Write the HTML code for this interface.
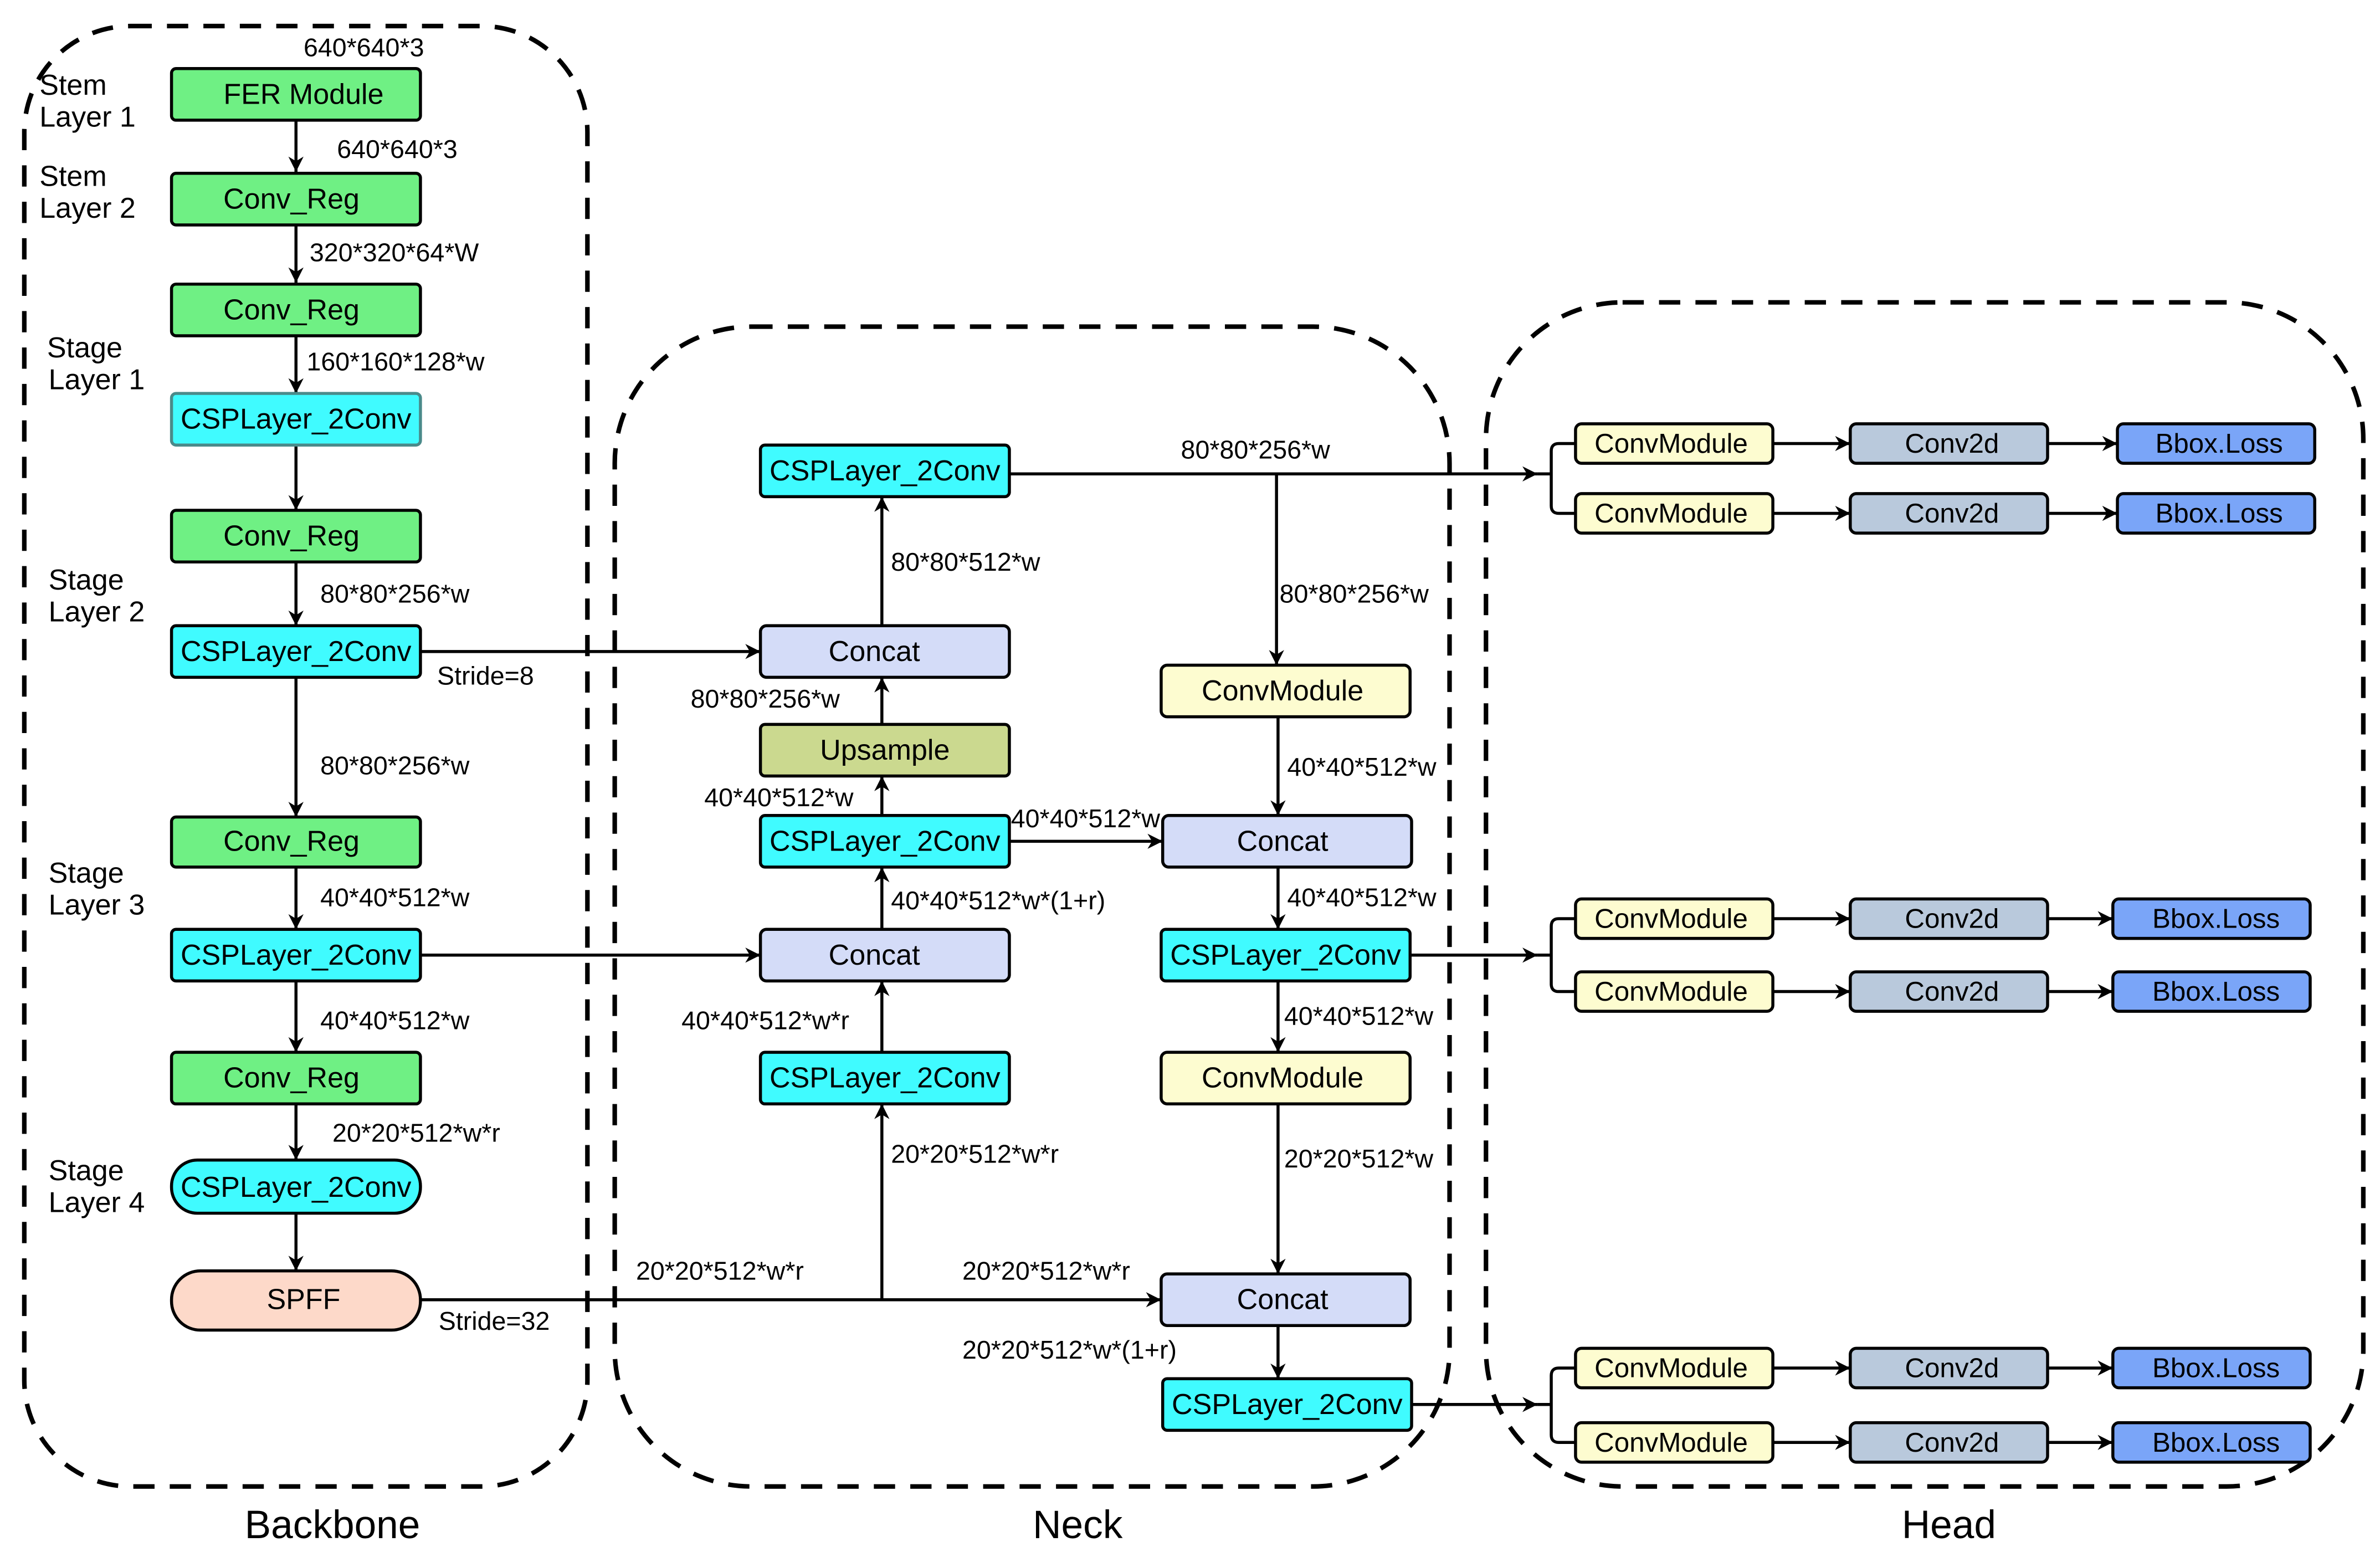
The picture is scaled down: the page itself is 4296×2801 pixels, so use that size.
<!DOCTYPE html>
<html><head><meta charset="utf-8"><style>
html,body{margin:0;padding:0;background:#fff}
svg{display:block}
text{font-family:"Liberation Sans",Arial,sans-serif;fill:#000}
</style></head><body>
<svg width="4296" height="2801" viewBox="0 0 1568 1022" xmlns="http://www.w3.org/2000/svg">
<defs>
<marker id="a" viewBox="0 0 10 10" refX="10" refY="5" markerWidth="10" markerHeight="10" orient="auto" markerUnits="userSpaceOnUse"><path d="M0,0 L10,5 L0,10 L3,5 z" fill="#000"/></marker>
</defs>
<rect width="1568" height="1022" fill="#fff"/>
<g fill="none" stroke="#000" stroke-width="3" stroke-dasharray="14,10">
<rect x="16" y="17" width="371" height="962" rx="70"/>
<rect x="405" y="215" width="550" height="764" rx="90"/>
<rect x="979" y="199" width="578" height="780" rx="90"/>
</g>
<g font-size="26" text-anchor="middle">
<text x="219" y="1013">Backbone</text><text x="710" y="1013">Neck</text><text x="1284" y="1013">Head</text>
</g>
<g stroke="#000" stroke-width="2" fill="none" marker-end="url(#a)">
<line x1="195" y1="79" x2="195" y2="113"/>
<line x1="195" y1="148" x2="195" y2="186"/>
<line x1="195" y1="221" x2="195" y2="259"/>
<line x1="195" y1="293" x2="195" y2="336"/>
<line x1="195" y1="370" x2="195" y2="412"/>
<line x1="195" y1="446" x2="195" y2="538"/>
<line x1="195" y1="571" x2="195" y2="612"/>
<line x1="195" y1="646" x2="195" y2="693"/>
<line x1="195" y1="727" x2="195" y2="764"/>
<line x1="195" y1="799" x2="195" y2="837"/>
<line x1="277" y1="429" x2="501" y2="429"/>
<line x1="277" y1="629" x2="501" y2="629"/>
<line x1="277" y1="856" x2="765" y2="856"/>
<line x1="581" y1="856" x2="581" y2="727"/>
<line x1="581" y1="693" x2="581" y2="646"/>
<line x1="581" y1="612" x2="581" y2="571"/>
<line x1="581" y1="537" x2="581" y2="511"/>
<line x1="581" y1="477" x2="581" y2="446"/>
<line x1="581" y1="412" x2="581" y2="327"/>
<line x1="665" y1="554" x2="766" y2="554"/>
<line x1="665" y1="312" x2="1013" y2="312"/>
<line x1="841" y1="312" x2="841" y2="438"/>
<line x1="842" y1="472" x2="842" y2="537"/>
<line x1="842" y1="571" x2="842" y2="612"/>
<line x1="842" y1="646" x2="842" y2="693"/>
<line x1="842" y1="727" x2="842" y2="839"/>
<line x1="842" y1="873" x2="842" y2="908"/>
<line x1="929" y1="629" x2="1013" y2="629"/>
<line x1="929" y1="925" x2="1013" y2="925"/>
<line x1="1168" y1="292" x2="1219" y2="292"/><line x1="1349" y1="292" x2="1395" y2="292"/>
<line x1="1168" y1="338" x2="1219" y2="338"/><line x1="1349" y1="338" x2="1395" y2="338"/>
<line x1="1168" y1="605" x2="1219" y2="605"/><line x1="1349" y1="605" x2="1392" y2="605"/>
<line x1="1168" y1="653" x2="1219" y2="653"/><line x1="1349" y1="653" x2="1392" y2="653"/>
<line x1="1168" y1="901" x2="1219" y2="901"/><line x1="1349" y1="901" x2="1392" y2="901"/>
<line x1="1168" y1="950" x2="1219" y2="950"/><line x1="1349" y1="950" x2="1392" y2="950"/>
</g>
<g stroke="#000" stroke-width="2" fill="none">
<path d="M1013,312 H1022 M1038,292 H1027 Q1022,292 1022,297 V333 Q1022,338 1027,338 H1038"/>
<path d="M1013,629 H1022 M1038,605 H1027 Q1022,605 1022,610 V648 Q1022,653 1027,653 H1038"/>
<path d="M1013,925 H1022 M1038,901 H1027 Q1022,901 1022,906 V945 Q1022,950 1027,950 H1038"/>
</g>
<g stroke="#000" stroke-width="2">
<rect x="113" y="45" width="164" height="34" rx="3" fill="#6ff084"/>
<rect x="113" y="114" width="164" height="34" rx="3" fill="#6ff084"/>
<rect x="113" y="187" width="164" height="34" rx="3" fill="#6ff084"/>
<rect x="113" y="259" width="164" height="34" rx="3" fill="#40fbff" stroke="#4a8a8a"/>
<rect x="113" y="336" width="164" height="34" rx="3" fill="#6ff084"/>
<rect x="113" y="412" width="164" height="34" rx="3" fill="#40fbff"/>
<rect x="113" y="538" width="164" height="33" rx="3" fill="#6ff084"/>
<rect x="113" y="612" width="164" height="34" rx="3" fill="#40fbff"/>
<rect x="113" y="693" width="164" height="34" rx="3" fill="#6ff084"/>
<rect x="113" y="764" width="164" height="35" rx="17" fill="#40fbff"/>
<rect x="113" y="837" width="164" height="39" rx="19" fill="#fdd9c9"/>
<rect x="501" y="293" width="164" height="34" rx="3" fill="#40fbff"/>
<rect x="501" y="412" width="164" height="34" rx="4" fill="#d4dcf8"/>
<rect x="501" y="477" width="164" height="34" rx="3" fill="#cbd98f"/>
<rect x="501" y="537" width="164" height="34" rx="3" fill="#40fbff"/>
<rect x="501" y="612" width="164" height="34" rx="4" fill="#d4dcf8"/>
<rect x="501" y="693" width="164" height="34" rx="3" fill="#40fbff"/>
<rect x="765" y="438" width="164" height="34" rx="4" fill="#fdfcd0"/>
<rect x="766" y="537" width="164" height="34" rx="4" fill="#d4dcf8"/>
<rect x="765" y="612" width="164" height="34" rx="3" fill="#40fbff"/>
<rect x="765" y="693" width="164" height="34" rx="4" fill="#fdfcd0"/>
<rect x="765" y="839" width="164" height="34" rx="4" fill="#d4dcf8"/>
<rect x="766" y="908" width="164" height="34" rx="3" fill="#40fbff"/>
<g fill="#fdfcd0"><rect x="1038" y="279" width="130" height="26" rx="4"/><rect x="1038" y="325" width="130" height="26" rx="4"/><rect x="1038" y="592" width="130" height="26" rx="4"/><rect x="1038" y="640" width="130" height="26" rx="4"/><rect x="1038" y="888" width="130" height="26" rx="4"/><rect x="1038" y="937" width="130" height="26" rx="4"/></g>
<g fill="#b9c9dc"><rect x="1219" y="279" width="130" height="26" rx="4"/><rect x="1219" y="325" width="130" height="26" rx="4"/><rect x="1219" y="592" width="130" height="26" rx="4"/><rect x="1219" y="640" width="130" height="26" rx="4"/><rect x="1219" y="888" width="130" height="26" rx="4"/><rect x="1219" y="937" width="130" height="26" rx="4"/></g>
<g fill="#7aa5f8"><rect x="1395" y="279" width="130" height="26" rx="4"/><rect x="1395" y="325" width="130" height="26" rx="4"/><rect x="1392" y="592" width="130" height="26" rx="4"/><rect x="1392" y="640" width="130" height="26" rx="4"/><rect x="1392" y="888" width="130" height="26" rx="4"/><rect x="1392" y="937" width="130" height="26" rx="4"/></g>
</g>
<g font-size="19" text-anchor="middle" dominant-baseline="central">
<text x="200" y="62">FER Module</text>
<text x="192" y="131">Conv_Reg</text>
<text x="192" y="204">Conv_Reg</text>
<text x="195" y="276">CSPLayer_2Conv</text>
<text x="192" y="353">Conv_Reg</text>
<text x="195" y="429">CSPLayer_2Conv</text>
<text x="192" y="554">Conv_Reg</text>
<text x="195" y="629">CSPLayer_2Conv</text>
<text x="192" y="710">Conv_Reg</text>
<text x="195" y="782">CSPLayer_2Conv</text>
<text x="200" y="856">SPFF</text>
<text x="583" y="310">CSPLayer_2Conv</text>
<text x="576" y="429">Concat</text>
<text x="583" y="494">Upsample</text>
<text x="583" y="554">CSPLayer_2Conv</text>
<text x="576" y="629">Concat</text>
<text x="583" y="710">CSPLayer_2Conv</text>
<text x="845" y="455">ConvModule</text>
<text x="845" y="554">Concat</text>
<text x="847" y="629">CSPLayer_2Conv</text>
<text x="845" y="710">ConvModule</text>
<text x="845" y="856">Concat</text>
<text x="848" y="925">CSPLayer_2Conv</text>
</g>
<g font-size="18" text-anchor="middle" dominant-baseline="central">
<text x="1101" y="292">ConvModule</text><text x="1101" y="338">ConvModule</text><text x="1101" y="605">ConvModule</text><text x="1101" y="653">ConvModule</text><text x="1101" y="901">ConvModule</text><text x="1101" y="950">ConvModule</text>
<text x="1286" y="292">Conv2d</text><text x="1286" y="338">Conv2d</text><text x="1286" y="605">Conv2d</text><text x="1286" y="653">Conv2d</text><text x="1286" y="901">Conv2d</text><text x="1286" y="950">Conv2d</text>
<text x="1462" y="292">Bbox.Loss</text><text x="1462" y="338">Bbox.Loss</text><text x="1460" y="605">Bbox.Loss</text><text x="1460" y="653">Bbox.Loss</text><text x="1460" y="901">Bbox.Loss</text><text x="1460" y="950">Bbox.Loss</text>
</g>
<g font-size="19" dominant-baseline="central">
<text x="26" y="56">Stem</text><text x="26" y="77">Layer 1</text>
<text x="26" y="116">Stem</text><text x="26" y="137">Layer 2</text>
<text x="31" y="229">Stage</text><text x="32" y="250">Layer 1</text>
<text x="32" y="382">Stage</text><text x="32" y="403">Layer 2</text>
<text x="32" y="575">Stage</text><text x="32" y="596">Layer 3</text>
<text x="32" y="771">Stage</text><text x="32" y="792">Layer 4</text>
</g>
<g font-size="17" dominant-baseline="central">
<text x="200" y="31">640*640*3</text>
<text x="222" y="98">640*640*3</text>
<text x="204" y="166">320*320*64*W</text>
<text x="202" y="238">160*160*128*w</text>
<text x="211" y="391">80*80*256*w</text>
<text x="288" y="445">Stride=8</text>
<text x="211" y="504">80*80*256*w</text>
<text x="211" y="591">40*40*512*w</text>
<text x="211" y="672">40*40*512*w</text>
<text x="219" y="746">20*20*512*w*r</text>
<text x="289" y="870">Stride=32</text>
<text x="419" y="837">20*20*512*w*r</text>
<text x="634" y="837">20*20*512*w*r</text>
<text x="634" y="889">20*20*512*w*(1+r)</text>
<text x="587" y="760">20*20*512*w*r</text>
<text x="449" y="672">40*40*512*w*r</text>
<text x="587" y="593">40*40*512*w*(1+r)</text>
<text x="464" y="525">40*40*512*w</text>
<text x="666" y="539">40*40*512*w</text>
<text x="455" y="460">80*80*256*w</text>
<text x="587" y="370">80*80*512*w</text>
<text x="778" y="296">80*80*256*w</text>
<text x="843" y="391">80*80*256*w</text>
<text x="848" y="505">40*40*512*w</text>
<text x="848" y="591">40*40*512*w</text>
<text x="846" y="669">40*40*512*w</text>
<text x="846" y="763">20*20*512*w</text>
</g>
</svg>
</body></html>
